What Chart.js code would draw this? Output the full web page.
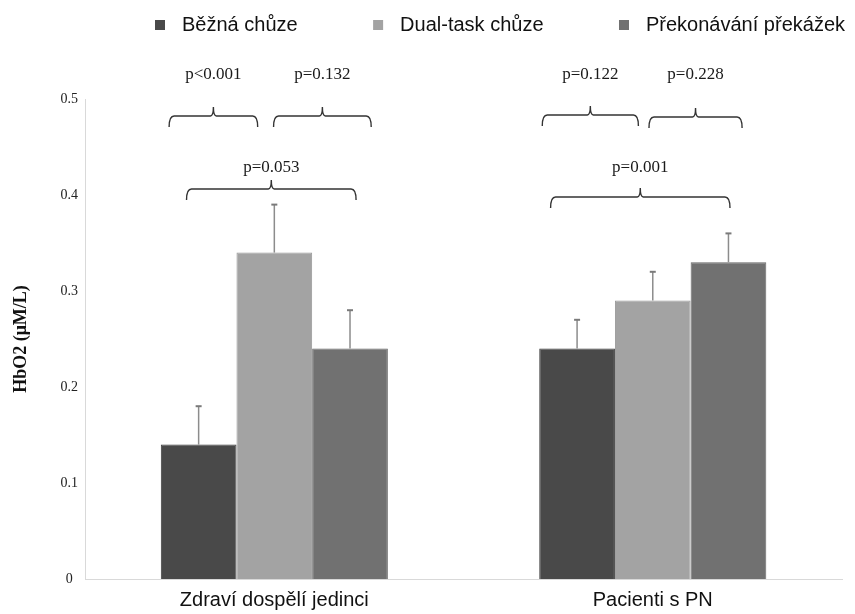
<!DOCTYPE html>
<html>
<head>
<meta charset="utf-8">
<script src="https://cdn.jsdelivr.net/npm/chart.js@4"></script>
<style>
  html,body{margin:0;padding:0;background:#fff;}
  #wrap{width:855px;height:614px;}
</style>
</head>
<body>
<div id="wrap"><canvas id="chart"></canvas></div>
<script>
// categories on the x axis
let categories = ['Zdraví dospělí jedinci', 'Pacienti s PN'];

// one series per walking task
let seriesNames = ['Běžná chůze', 'Dual-task chůze', 'Překonávání překážek'];
let bezna = [0.14, 0.24];
let dualTask = [0.34, 0.29];
let prekazky = [0.24, 0.33];

// top of the error bar (mean + SD)
let beznaErr = [0.18, 0.27];
let dualTaskErr = [0.39, 0.32];
let prekazkyErr = [0.28, 0.36];

// y axis ticks
let yTicks = [0, 0.1, 0.2, 0.3, 0.4, 0.5];

// p values, comparisons are series pairs [a, b]
let comparisons = [[0, 1], [1, 2], [0, 2]];
let pHealthy = ['p<0.001', 'p=0.132', 'p=0.053'];
let pPatients = ['p=0.122', 'p=0.228', 'p=0.001'];

let colors = ['#494949', '#a3a3a3', '#717171'];
let borders = ['#3a3a3a', '#989898', '#666666'];

//=====================================================================
//  plugins
//=====================================================================

// error bars, only the upper whisker
let errorBars = {
    id: 'errorBars',
    afterDatasetsDraw(chart) {
        let ctx = chart.ctx;
        let y = chart.scales.y;
        let tops = [beznaErr, dualTaskErr, prekazkyErr];
        ctx.save();
        chart.data.datasets.forEach((ds, i) => {
            let meta = chart.getDatasetMeta(i);
            meta.data.forEach((bar, j) => {
                let yTop = y.getPixelForValue(tops[i][j]);
                ctx.strokeStyle = '#8c8c8c';
                ctx.lineWidth = 1.5;
                ctx.beginPath();
                ctx.moveTo(bar.x, bar.y);
                ctx.lineTo(bar.x, yTop);
                ctx.stroke();
                ctx.strokeStyle = '#7a7a7a';
                ctx.lineWidth = 2;
                ctx.beginPath();
                ctx.moveTo(bar.x - 3, yTop);
                ctx.lineTo(bar.x + 3, yTop);
                ctx.stroke();
            });
        });
        ctx.restore();
    }
};

// curly brackets with p values; offsets are in bar widths from the group centre
let bracketLayout = [
    [[-1.39, -0.22, 17], [-0.01, 1.28, 17], [-1.16, 1.08, 90]],
    [[-1.46, -0.19, 16], [-0.05, 1.18, 18], [-1.35, 1.02, 98]]
];
let textRows = [-24, -24, 69];

function drawBrace(ctx, x1, x2, y) {
    let mid = (x1 + x2) / 2;
    ctx.beginPath();
    ctx.moveTo(x1, y + 11);
    ctx.quadraticCurveTo(x1, y, x1 + 5, y);
    ctx.lineTo(mid - 3, y);
    ctx.quadraticCurveTo(mid, y, mid, y - 9);
    ctx.quadraticCurveTo(mid, y, mid + 3, y);
    ctx.lineTo(x2 - 5, y);
    ctx.quadraticCurveTo(x2, y, x2, y + 11);
    ctx.stroke();
}

let brackets = {
    id: 'brackets',
    afterDraw(chart) {
        let ctx = chart.ctx;
        let x = chart.scales.x;
        let top = chart.chartArea.top;
        let barW = chart.getDatasetMeta(0).data[0].width;
        let pvals = [pHealthy, pPatients];
        ctx.save();
        ctx.strokeStyle = '#333';
        ctx.lineWidth = 1.4;
        ctx.fillStyle = '#1a1a1a';
        ctx.font = '17px "Liberation Serif", serif';
        ctx.textAlign = 'center';
        ctx.textBaseline = 'middle';
        categories.forEach((c, g) => {
            let cx = x.getPixelForValue(g);
            comparisons.forEach((pair, k) => {
                let l = bracketLayout[g][k];
                let x1 = cx + l[0] * barW;
                let x2 = cx + l[1] * barW;
                drawBrace(ctx, x1, x2, top + l[2]);
                ctx.fillText(pvals[g][k], (x1 + x2) / 2, top + textRows[k]);
            });
        });
        ctx.restore();
    }
};

// legend drawn across the top, spread from 155 to 845
let topLegend = {
    id: 'topLegend',
    afterDraw(chart) {
        let ctx = chart.ctx;
        ctx.save();
        ctx.font = '20px "Liberation Sans", Arial, sans-serif';
        ctx.textBaseline = 'middle';
        ctx.fillStyle = '#111';
        let widths = seriesNames.map(n => 10 + 17 + ctx.measureText(n).width);
        let total = widths.reduce((a, b) => a + b, 0);
        let gap = (845 - 155 - total) / (seriesNames.length - 1);
        let px = 155;
        seriesNames.forEach((n, i) => {
            ctx.fillStyle = colors[i];
            ctx.fillRect(px, 20, 10, 10);
            ctx.fillStyle = '#111';
            ctx.fillText(n, px + 27, 25);
            px += widths[i] + gap;
        });
        ctx.restore();
    }
};

//=====================================================================
//  chart
//=====================================================================

let data = [bezna, dualTask, prekazky];

new Chart(document.querySelector('#chart').getContext('2d'), {
    type: 'bar',
    data: {
        labels: categories,
        datasets: seriesNames.map((n, i) => ({
            label: n,
            data: data[i],
            backgroundColor: colors[i],
            borderColor: borders[i],
            borderWidth: 1,
            categoryPercentage: 0.6,
            barPercentage: 1
        }))
    },
    options: {
        responsive: true,
        maintainAspectRatio: false,
        animation: false,
        layout: { padding: { top: 99, left: 11, right: 13, bottom: -7 } },
        plugins: {
            legend: { display: false },
            tooltip: { enabled: false }
        },
        scales: {
            x: {
                grid: { display: false, drawTicks: false },
                border: { display: true, color: '#d9d9d9', width: 1 },
                ticks: {
                    color: '#111',
                    padding: 9,
                    font: { family: '"Liberation Sans", Arial, sans-serif', size: 20 }
                }
            },
            y: {
                min: 0,
                max: 0.5,
                afterBuildTicks: (axis) => { axis.ticks = yTicks.map(v => ({ value: v })); },
                grid: { display: false, drawTicks: false },
                border: { display: true, color: '#d9d9d9', width: 1 },
                ticks: {
                    color: '#222',
                    padding: 7,
                    crossAlign: 'center',
                    font: { family: '"Liberation Serif", serif', size: 14 }
                },
                title: {
                    display: true,
                    text: 'HbO2 (μM/L)',
                    color: '#111',
                    padding: { top: 0, bottom: 21 },
                    font: { family: '"Liberation Serif", serif', size: 18, weight: 'bold' }
                }
            }
        }
    },
    plugins: [errorBars, brackets, topLegend]
});
</script>
</body>
</html>
